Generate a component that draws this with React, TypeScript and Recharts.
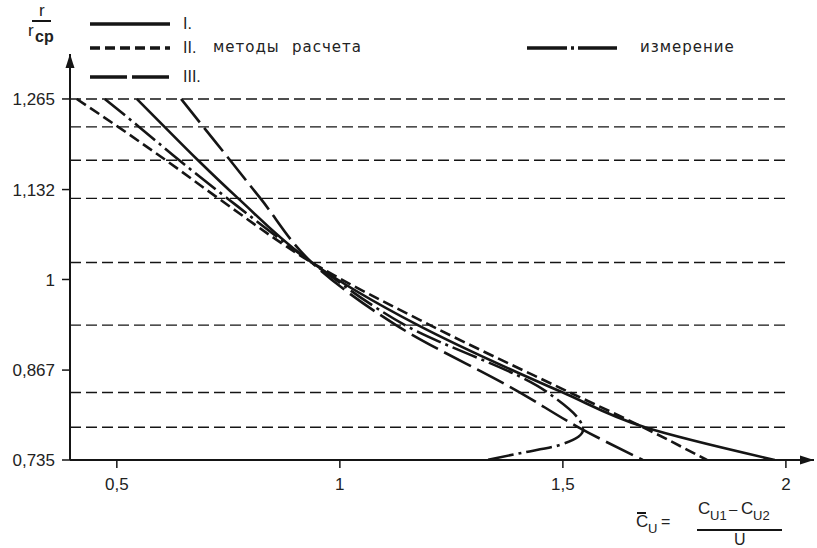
import { ScatterChart, Scatter, XAxis, YAxis, ReferenceLine, ReferenceDot } from 'recharts';

// radius stations r / r_cp (top to bottom)
const stationsR = [1.265, 1.224, 1.175, 1.119, 1.025, 0.933, 0.834, 0.783, 0.735];
// calculation methods, C_U at each station
const methodI = [0.545, 0.607, 0.682, 0.772, 0.937, 1.175, 1.5, 1.684, 1.975];
const methodII = [0.41, 0.503, 0.61, 0.728, 0.937, 1.202, 1.516, 1.68, 1.823];
const methodIII = [0.644, 0.694, 0.754, 0.822, 0.937, 1.126, 1.404, 1.535, 1.679];
// measurement (curve turns back near the hub)
const measuredR = [1.265, 1.224, 1.175, 1.119, 1.025, 0.933, 0.834, 0.779, 0.757, 0.745, 0.735];
const measuredC = [0.473, 0.55, 0.64, 0.748, 0.937, 1.146, 1.466, 1.545, 1.493, 1.404, 1.33];

const gridR = [1.265, 1.224, 1.175, 1.119, 1.025, 0.933, 0.834, 0.783];
const yTicks = [0.735, 0.867, 1, 1.132, 1.265];
const xTicks = [0.5, 1, 1.5, 2];
const xDomain: [number, number] = [0.395, 2.063];
const yDomain: [number, number] = [0.735, 1.331];

const INK = '#151515';
const tickFont = { fill: '#222', fontSize: 17, fontFamily: 'Liberation Sans, Arial, sans-serif' };
const labelFont = 'Liberation Sans, Arial, sans-serif';
const ruFont = 'DejaVu Sans, sans-serif';

const toPoints = (rs: number[], cs: number[]) => rs.map((r, i) => ({ r, c: cs[i] }));
const fmt = (v: number) => String(v).replace('.', ',');

const series = [
  { name: 'I', data: toPoints(stationsR, methodI), dash: undefined },
  { name: 'II', data: toPoints(stationsR, methodII), dash: '11 5' },
  { name: 'III', data: toPoints(stationsR, methodIII), dash: '30 7' },
  { name: 'meas', data: toPoints(measuredR, measuredC), dash: '26 5 3 5' },
];

function Legend() {
  const txt = { position: 'absolute' as const, fontSize: 16, color: '#222', lineHeight: '18px' };
  return (
    <>
      <svg width={817} height={100} style={{ position: 'absolute', left: 0, top: 0 }}>
        <line x1={90} x2={170} y1={24} y2={24} stroke={INK} strokeWidth={3.5} />
        <line x1={90} x2={170} y1={48} y2={48} stroke={INK} strokeWidth={3.5} strokeDasharray="10 5" />
        <line x1={90} x2={170} y1={77} y2={77} stroke={INK} strokeWidth={3.5} strokeDasharray="37 5" />
        <line x1={527} x2={617} y1={48} y2={48} stroke={INK} strokeWidth={3.5} strokeDasharray="40 4 3 4" />
      </svg>
      <span style={{ ...txt, left: 183, top: 15, fontFamily: labelFont }}>I.</span>
      <span style={{ ...txt, left: 183, top: 39, fontFamily: labelFont }}>II.</span>
      <span style={{ ...txt, left: 213, top: 38, fontFamily: ruFont, fontSize: 15, letterSpacing: 1 }}>методы</span>
      <span style={{ ...txt, left: 292, top: 38, fontFamily: ruFont, fontSize: 15, letterSpacing: 1 }}>расчета</span>
      <span style={{ ...txt, left: 183, top: 68, fontFamily: labelFont }}>III.</span>
      <span style={{ ...txt, left: 640, top: 38, fontFamily: ruFont, fontSize: 15, letterSpacing: 1 }}>измерение</span>
    </>
  );
}

function AxisTitles() {
  const base = { position: 'absolute' as const, color: '#222', fontFamily: labelFont, lineHeight: '18px' };
  return (
    <>
      {/* r / r_cp */}
      <span style={{ ...base, left: 39, top: 2, fontSize: 17 }}>r</span>
      <div style={{ position: 'absolute', left: 32, top: 20, width: 19, height: 1.5, background: INK }} />
      <span style={{ ...base, left: 28, top: 22, fontSize: 17 }}>r</span>
      <span style={{ ...base, left: 35, top: 28, fontSize: 16, fontWeight: 700 }}>cp</span>
      {/* C_U = (C_U1 - C_U2) / U */}
      <div style={{ position: 'absolute', left: 637, top: 512, width: 9, height: 1.5, background: INK }} />
      <span style={{ ...base, left: 636, top: 513, fontSize: 17 }}>C</span>
      <span style={{ ...base, left: 648, top: 520, fontSize: 13 }}>U</span>
      <span style={{ ...base, left: 661, top: 513, fontSize: 16 }}>=</span>
      <span style={{ ...base, left: 698, top: 500, fontSize: 17 }}>C</span>
      <span style={{ ...base, left: 710, top: 507, fontSize: 13 }}>U1</span>
      <span style={{ ...base, left: 729, top: 500, fontSize: 15 }}>–</span>
      <span style={{ ...base, left: 741, top: 500, fontSize: 17 }}>C</span>
      <span style={{ ...base, left: 753, top: 507, fontSize: 13 }}>U2</span>
      <div style={{ position: 'absolute', left: 697, top: 529, width: 85, height: 1.5, background: INK }} />
      <span style={{ ...base, left: 734, top: 531, fontSize: 16 }}>U</span>
    </>
  );
}

const upArrow = (p: any) => (
  <polygon points={`${p.cx},${p.cy} ${p.cx - 4.5},${p.cy + 14} ${p.cx + 4.5},${p.cy + 14}`} fill={INK} />
);
const rightArrow = (p: any) => (
  <polygon points={`${p.cx},${p.cy} ${p.cx - 14},${p.cy - 4.5} ${p.cx - 14},${p.cy + 4.5}`} fill={INK} />
);

export default function App() {
  return (
    <div style={{ position: 'absolute', left: 0, top: 0, width: 817, height: 548, background: '#fff' }}>
      <ScatterChart width={817} height={548} margin={{ top: 54, right: 3, bottom: 0, left: 0 }}>
        <XAxis
          type="number"
          dataKey="c"
          domain={xDomain}
          ticks={xTicks}
          allowDataOverflow
          height={88}
          tickSize={8}
          tickMargin={10}
          tickFormatter={fmt}
          tick={tickFont}
          axisLine={{ stroke: INK, strokeWidth: 2 }}
          tickLine={{ stroke: INK, strokeWidth: 1.5 }}
        />
        <YAxis
          type="number"
          dataKey="r"
          domain={yDomain}
          ticks={yTicks}
          allowDataOverflow
          width={70}
          tickSize={8}
          tickMargin={7}
          tickFormatter={fmt}
          tick={tickFont}
          axisLine={{ stroke: INK, strokeWidth: 2 }}
          tickLine={{ stroke: INK, strokeWidth: 1.5 }}
        />
        {gridR.map((r) => (
          <ReferenceLine
            key={r}
            segment={[{ x: xDomain[0], y: r }, { x: 2.0, y: r }]}
            stroke={INK}
            strokeWidth={1.4}
            strokeDasharray="11 5"
          />
        ))}
        {series.map((s) => (
          <Scatter
            key={s.name}
            data={s.data}
            fill={INK}
            line={{ stroke: INK, strokeWidth: 2.6, strokeDasharray: s.dash }}
            lineType="joint"
            lineJointType="monotoneY"
            shape={() => <g />}
            isAnimationActive={false}
          />
        ))}
        <ReferenceDot x={xDomain[0]} y={yDomain[1]} ifOverflow="visible" shape={upArrow} />
        <ReferenceDot x={xDomain[1]} y={yDomain[0]} ifOverflow="visible" shape={rightArrow} />
      </ScatterChart>
      <Legend />
      <AxisTitles />
    </div>
  );
}
